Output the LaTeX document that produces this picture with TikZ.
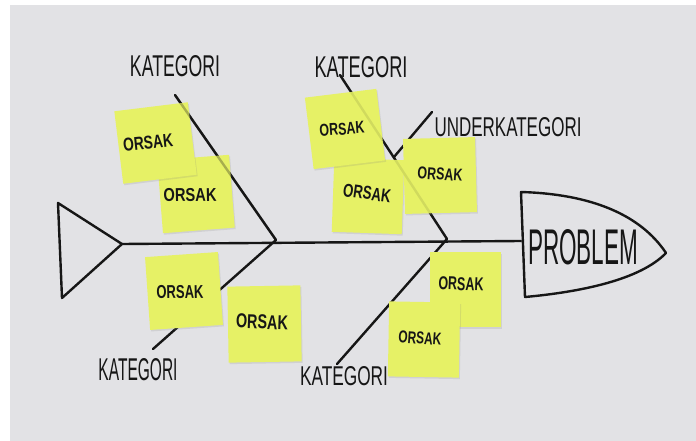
\documentclass[tikz,border=0pt]{standalone}
\usepackage{fontspec}
\setmainfont{Liberation Sans}
\usetikzlibrary{shadows}
\definecolor{paper}{RGB}{226,226,229}
\definecolor{notey}{RGB}{230,241,102}
\definecolor{ink}{RGB}{22,22,22}
\newcommand{\handlab}[3]{\resizebox{#1pt}{#2pt}{#3}}
\begin{document}
\begin{tikzpicture}[x=1pt,y=-1pt,
  bone/.style={draw=ink,line width=2.4pt,line cap=round,line join=round},
  sticky/.style={fill=notey,draw=none,inner sep=0pt,minimum width=72pt,minimum height=74pt,
    drop shadow={opacity=0.18,shadow xshift=1pt,shadow yshift=-1.5pt}},
  orsak/.style={inner sep=0pt,text=ink,font=\bfseries},
  lab/.style={inner sep=0pt,text=ink}]
\useasboundingbox (0,0) rectangle (696,441);
\fill[white] (0,0) rectangle (696,441);
\fill[paper] (10,5) rectangle (696,441);
% key points
\coordinate (tt) at (58,203);
\coordinate (tip) at (122,244);
\coordinate (tb) at (62,298);
\coordinate (hl) at (521,241);
\coordinate (j1) at (276,240);
\coordinate (j2) at (447,239);
\coordinate (e1) at (175,95);
\coordinate (e2) at (153,349);
\coordinate (e3) at (340,75);
\coordinate (e4) at (337,364);
\coordinate (s0) at (432,112);
\coordinate (s1) at (394,157);
% tail and head
\draw[bone] (tt) -- (tip) -- (tb) -- cycle;
\draw[bone] (521,192) .. controls (590,194) and (640,214) .. (666,253)
  .. controls (640,280) and (580,292) .. (525,297) -- cycle;
% spine and bones
\draw[bone] (tip) -- (hl);
\draw[bone] (e1) -- (j1) -- (e2);
\draw[bone] (e3) -- (j2) -- (e4);
\draw[bone] (s0) -- (s1);
% labels
\node[lab] (k1) at (175,66) {\handlab{90}{21}{KATEGORI}};
\node[lab] (k2) at (361,67) {\handlab{93}{21}{KATEGORI}};
\node[lab] (uk) at (508,127) {\handlab{147}{19}{UNDERKATEGORI}};
\node[lab] (k3) at (138,370) {\handlab{79}{22}{KATEGORI}};
\node[lab] (k4) at (344,376) {\handlab{88}{19}{KATEGORI}};
\node[lab] (pr) at (583,247) {\handlab{110}{35}{PROBLEM}};
% sticky notes
\node[sticky,rotate=4.5,minimum width=72pt,minimum height=73pt] (n2) at (196,194) {};
\node[sticky,rotate=7,minimum width=74pt,minimum height=73pt] (n1) at (155.5,143) {};
\node[sticky,rotate=-2,minimum width=70pt,minimum height=74pt] (n4) at (368,196) {};
\node[sticky,rotate=7,minimum width=72pt,minimum height=72pt] (n3) at (345,129) {};
\node[sticky,rotate=1.5,minimum width=72pt,minimum height=75pt] (n5) at (440,175.5) {};
\node[sticky,rotate=4,minimum width=73pt,minimum height=73pt] (n6) at (184,291) {};
\node[sticky,rotate=1,minimum width=73pt,minimum height=76pt] (n7) at (264.5,324) {};
\node[sticky,rotate=0,minimum width=71pt,minimum height=75pt] (n8) at (465.5,289.5) {};
\node[sticky,rotate=-1,minimum width=71pt,minimum height=75pt] (n9) at (424,339.5) {};
% bones faintly visible through the notes
\draw[bone,opacity=0.3] (e1) -- (j1);
\draw[bone,opacity=0.1] (e3) -- (j2);
% note texts
\node[orsak,rotate=6] (o1) at (148,143) {\handlab{50}{13}{ORSAK}};
\node[orsak,rotate=1] (o2) at (190,195) {\handlab{53}{13}{ORSAK}};
\node[orsak,rotate=4] (o3) at (342,129) {\handlab{45}{12}{ORSAK}};
\node[orsak,rotate=-8] (o4) at (367,193) {\handlab{48}{13}{ORSAK}};
\node[orsak,rotate=-4] (o5) at (440,174) {\handlab{45}{12}{ORSAK}};
\node[orsak,rotate=1] (o6) at (180,292) {\handlab{47}{13}{ORSAK}};
\node[orsak,rotate=-2] (o7) at (262,322) {\handlab{52}{14}{ORSAK}};
\node[orsak,rotate=-2] (o8) at (461,284) {\handlab{45}{13}{ORSAK}};
\node[orsak,rotate=-4] (o9) at (420,338) {\handlab{43}{12}{ORSAK}};
\end{tikzpicture}
\end{document}
